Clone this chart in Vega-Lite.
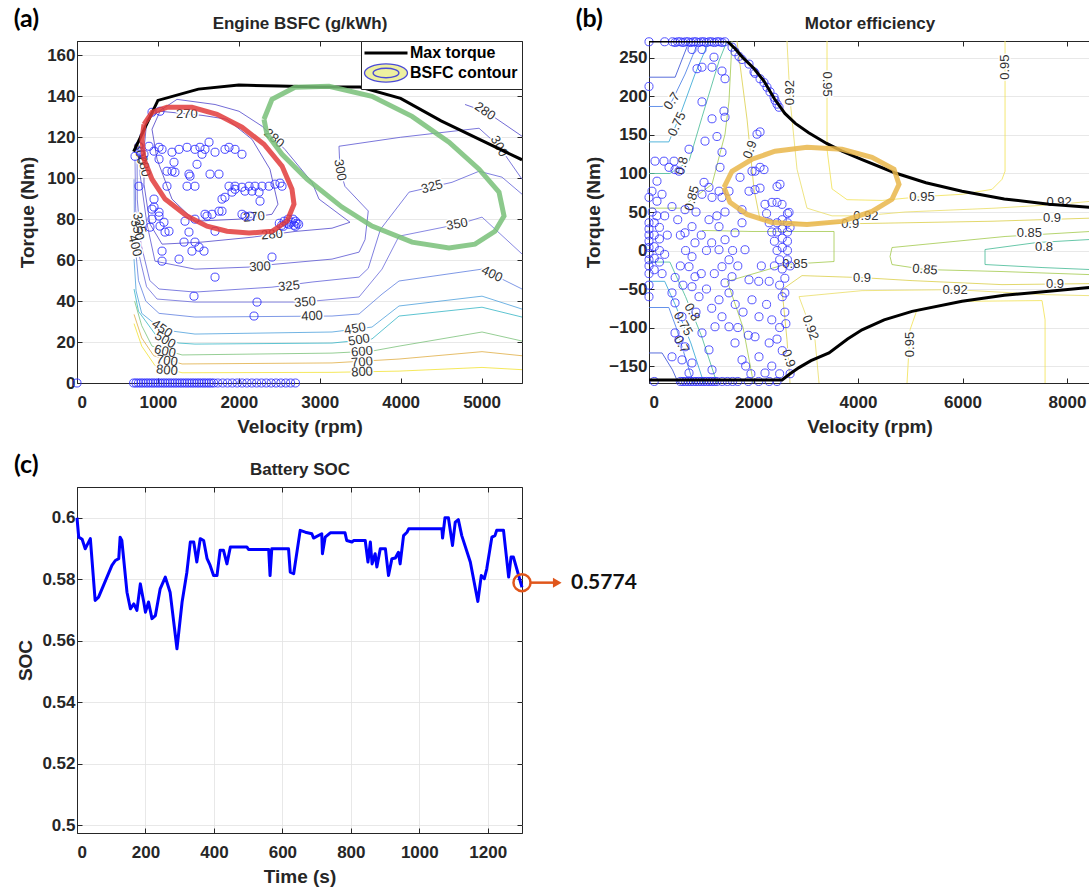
{
"$schema": "https://vega.github.io/schema/vega-lite/v6.json",
"padding": {"left": 13, "top": 6, "right": 0, "bottom": 0},
"background": "white",
"config": {
  "font": "Liberation Sans",
  "view": {"stroke": "#262626", "strokeWidth": 1},
  "axis": {"labelFont": "Liberation Sans", "labelFontSize": 17, "labelFontWeight": "bold", "labelColor": "#262626", "titleFont": "Liberation Sans", "titleFontSize": 19, "titleFontWeight": "bold", "titleColor": "#262626", "domainColor": "#262626", "tickColor": "#262626", "tickSize": -5, "labelPadding": 12, "gridColor": "#e2e2e2", "gridWidth": 0.8},
  "axisBottom": {"labelPadding": 16, "titlePadding": 7},
  "axisLeft": {"labelPadding": 7},
  "title": {"font": "Lato", "fontSize": 25, "fontWeight": "bold", "color": "#000000", "anchor": "start", "frame": "bounds", "offset": -17}
},
"resolve": {"scale": {"color": "independent", "stroke": "independent"}, "legend": {"color": "independent", "stroke": "independent"}},
"datasets": {
  "bsfc": [
    {"lv":270,"seg":"270","i":0,"v":1026,"T":132.7},{"lv":270,"seg":"270","i":1,"v":1545,"T":130.7},{"lv":270,"seg":"270","i":2,"v":1854,"T":128.8},{"lv":270,"seg":"270","i":3,"v":2163,"T":119},{"lv":270,"seg":"270","i":4,"v":2385,"T":104.4},{"lv":270,"seg":"270","i":5,"v":2484,"T":87.3},{"lv":270,"seg":"270","i":6,"v":2410,"T":82.4},{"lv":270,"seg":"270","i":7,"v":2002,"T":80},{"lv":270,"seg":"270","i":8,"v":1458,"T":79},{"lv":270,"seg":"270","i":9,"v":1174,"T":89.8},{"lv":270,"seg":"270","i":10,"v":989,"T":109.3},{"lv":270,"seg":"270","i":11,"v":927,"T":123.9},{"lv":270,"seg":"270","i":12,"v":1026,"T":132.7},
    {"lv":280,"seg":"280a","i":0,"v":828,"T":114},{"lv":280,"seg":"280a","i":1,"v":865,"T":128.8},{"lv":280,"seg":"280a","i":2,"v":1236,"T":138.5},{"lv":280,"seg":"280a","i":3,"v":1706,"T":136},{"lv":280,"seg":"280a","i":4,"v":2002,"T":132.7},{"lv":280,"seg":"280a","i":5,"v":2287,"T":125.4},{"lv":280,"seg":"280a","i":6,"v":2571,"T":114},{"lv":280,"seg":"280a","i":7,"v":2905,"T":98},{"lv":280,"seg":"280a","i":8,"v":2991,"T":89.8},{"lv":280,"seg":"280a","i":9,"v":3374,"T":78.5},{"lv":280,"seg":"280a","i":10,"v":3152,"T":75.6},{"lv":280,"seg":"280a","i":11,"v":2694,"T":74},{"lv":280,"seg":"280a","i":12,"v":2163,"T":71.2},{"lv":280,"seg":"280a","i":13,"v":1545,"T":68.8},{"lv":280,"seg":"280a","i":14,"v":1051,"T":67.8},{"lv":280,"seg":"280a","i":15,"v":902,"T":77.6},{"lv":280,"seg":"280a","i":16,"v":828,"T":97},{"lv":280,"seg":"280a","i":17,"v":828,"T":114},
    {"lv":280,"seg":"280b","i":0,"v":4796,"T":136},{"lv":280,"seg":"280b","i":1,"v":5068,"T":132.2},{"lv":280,"seg":"280b","i":2,"v":5500,"T":120.5},
    {"lv":300,"seg":"300","i":0,"v":779,"T":121.5},{"lv":300,"seg":"300","i":1,"v":779,"T":102},{"lv":300,"seg":"300","i":2,"v":865,"T":77.6},{"lv":300,"seg":"300","i":3,"v":964,"T":59.5},{"lv":300,"seg":"300","i":4,"v":1458,"T":55.6},{"lv":300,"seg":"300","i":5,"v":2126,"T":56.6},{"lv":300,"seg":"300","i":6,"v":2447,"T":58},{"lv":300,"seg":"300","i":7,"v":3152,"T":60.5},{"lv":300,"seg":"300","i":8,"v":3486,"T":63.9},{"lv":300,"seg":"300","i":9,"v":3560,"T":70},{"lv":300,"seg":"300","i":10,"v":3600,"T":84},{"lv":300,"seg":"300","i":11,"v":3312,"T":96},{"lv":300,"seg":"300","i":12,"v":3251,"T":104},{"lv":300,"seg":"300","i":13,"v":3238,"T":115.6},{"lv":300,"seg":"300","i":14,"v":4000,"T":120},{"lv":300,"seg":"300","i":15,"v":4969,"T":124.4},{"lv":300,"seg":"300","i":16,"v":5216,"T":115.6},{"lv":300,"seg":"300","i":17,"v":5500,"T":99.5},
    {"lv":325,"seg":"325","i":0,"v":742,"T":114},{"lv":325,"seg":"325","i":1,"v":745,"T":89.8},{"lv":325,"seg":"325","i":2,"v":790,"T":68},{"lv":325,"seg":"325","i":3,"v":900,"T":50},{"lv":325,"seg":"325","i":4,"v":1014,"T":45.9},{"lv":325,"seg":"325","i":5,"v":1458,"T":44.4},{"lv":325,"seg":"325","i":6,"v":2410,"T":46.8},{"lv":325,"seg":"325","i":7,"v":2905,"T":49.3},{"lv":325,"seg":"325","i":8,"v":3486,"T":51.7},{"lv":325,"seg":"325","i":9,"v":3600,"T":56},{"lv":325,"seg":"325","i":10,"v":3750,"T":75},{"lv":325,"seg":"325","i":11,"v":4104,"T":93.2},{"lv":325,"seg":"325","i":12,"v":4635,"T":98},{"lv":325,"seg":"325","i":13,"v":4969,"T":103.4},{"lv":325,"seg":"325","i":14,"v":5253,"T":100.5},{"lv":325,"seg":"325","i":15,"v":5500,"T":92.2},
    {"lv":350,"seg":"350","i":0,"v":717,"T":109},{"lv":350,"seg":"350","i":1,"v":725,"T":85},{"lv":350,"seg":"350","i":2,"v":770,"T":62},{"lv":350,"seg":"350","i":3,"v":860,"T":47},{"lv":350,"seg":"350","i":4,"v":989,"T":41},{"lv":350,"seg":"350","i":5,"v":1458,"T":39.5},{"lv":350,"seg":"350","i":6,"v":2781,"T":39.5},{"lv":350,"seg":"350","i":7,"v":3486,"T":42},{"lv":350,"seg":"350","i":8,"v":3770,"T":55.6},{"lv":350,"seg":"350","i":9,"v":3980,"T":71.7},{"lv":350,"seg":"350","i":10,"v":4722,"T":77.6},{"lv":350,"seg":"350","i":11,"v":5006,"T":81},{"lv":350,"seg":"350","i":12,"v":5500,"T":63},
    {"lv":400,"seg":"400","i":0,"v":705,"T":99.5},{"lv":400,"seg":"400","i":1,"v":712,"T":70.2},{"lv":400,"seg":"400","i":2,"v":760,"T":50},{"lv":400,"seg":"400","i":3,"v":850,"T":40},{"lv":400,"seg":"400","i":4,"v":1014,"T":34},{"lv":400,"seg":"400","i":5,"v":1458,"T":32.2},{"lv":400,"seg":"400","i":6,"v":3152,"T":32.7},{"lv":400,"seg":"400","i":7,"v":3486,"T":33.7},{"lv":400,"seg":"400","i":8,"v":3770,"T":43.4},{"lv":400,"seg":"400","i":9,"v":3980,"T":49.8},{"lv":400,"seg":"400","i":10,"v":5006,"T":55.6},{"lv":400,"seg":"400","i":11,"v":5500,"T":45.9},
    {"lv":450,"seg":"450","i":0,"v":705,"T":60.5},{"lv":450,"seg":"450","i":1,"v":730,"T":45},{"lv":450,"seg":"450","i":2,"v":800,"T":34},{"lv":450,"seg":"450","i":3,"v":1051,"T":26},{"lv":450,"seg":"450","i":4,"v":1458,"T":23.9},{"lv":450,"seg":"450","i":5,"v":3152,"T":24.9},{"lv":450,"seg":"450","i":6,"v":3646,"T":27.3},{"lv":450,"seg":"450","i":7,"v":3980,"T":37.6},{"lv":450,"seg":"450","i":8,"v":5006,"T":42.4},{"lv":450,"seg":"450","i":9,"v":5500,"T":36.1},
    {"lv":500,"seg":"500","i":0,"v":705,"T":45.9},{"lv":500,"seg":"500","i":1,"v":760,"T":35},{"lv":500,"seg":"500","i":2,"v":1000,"T":22},{"lv":500,"seg":"500","i":3,"v":1261,"T":19.5},{"lv":500,"seg":"500","i":4,"v":1458,"T":19},{"lv":500,"seg":"500","i":5,"v":3152,"T":19.5},{"lv":500,"seg":"500","i":6,"v":3646,"T":21.5},{"lv":500,"seg":"500","i":7,"v":3980,"T":32.7},{"lv":500,"seg":"500","i":8,"v":5006,"T":37},{"lv":500,"seg":"500","i":9,"v":5500,"T":32.2},
    {"lv":600,"seg":"600","i":0,"v":712,"T":40},{"lv":600,"seg":"600","i":1,"v":800,"T":28},{"lv":600,"seg":"600","i":2,"v":927,"T":18},{"lv":600,"seg":"600","i":3,"v":1298,"T":13.7},{"lv":600,"seg":"600","i":4,"v":3152,"T":14.6},{"lv":600,"seg":"600","i":5,"v":3646,"T":15.6},{"lv":600,"seg":"600","i":6,"v":3980,"T":18},{"lv":600,"seg":"600","i":7,"v":5006,"T":24.9},{"lv":600,"seg":"600","i":8,"v":5500,"T":20.5},
    {"lv":700,"seg":"700","i":0,"v":705,"T":33.5},{"lv":700,"seg":"700","i":1,"v":800,"T":22},{"lv":700,"seg":"700","i":2,"v":948,"T":13.3},{"lv":700,"seg":"700","i":3,"v":1298,"T":9.3},{"lv":700,"seg":"700","i":4,"v":3152,"T":9.8},{"lv":700,"seg":"700","i":5,"v":3980,"T":11.7},{"lv":700,"seg":"700","i":6,"v":5006,"T":15.3},{"lv":700,"seg":"700","i":7,"v":5500,"T":13.3},
    {"lv":800,"seg":"800","i":0,"v":705,"T":29},{"lv":800,"seg":"800","i":1,"v":800,"T":18},{"lv":800,"seg":"800","i":2,"v":964,"T":8.5},{"lv":800,"seg":"800","i":3,"v":1298,"T":5},{"lv":800,"seg":"800","i":4,"v":3152,"T":5.2},{"lv":800,"seg":"800","i":5,"v":3980,"T":5.8},{"lv":800,"seg":"800","i":6,"v":5006,"T":7.6},{"lv":800,"seg":"800","i":7,"v":5500,"T":6.5}
  ],
  "bsfcLab": [
    {"txt":"270","v":1359,"T":131.4,"rot":0},{"txt":"270","v":2188,"T":81.1,"rot":-5},{"txt":"280","v":2435,"T":119.5,"rot":40},{"txt":"280","v":2410,"T":72.5,"rot":-5},{"txt":"280","v":5043,"T":132.7,"rot":35},{"txt":"280","v":828,"T":106,"rot":78},
    {"txt":"300","v":779,"T":112,"rot":78},{"txt":"300","v":2262,"T":56.8,"rot":-3},{"txt":"300","v":3251,"T":104,"rot":80},{"txt":"300","v":5216,"T":115.6,"rot":60},
    {"txt":"325","v":770,"T":78,"rot":75},{"txt":"325","v":2620,"T":47.3,"rot":-5},{"txt":"325","v":4388,"T":95.8,"rot":-15},
    {"txt":"350","v":745,"T":74.8,"rot":75},{"txt":"350","v":2818,"T":39.5,"rot":-5},{"txt":"350","v":4697,"T":77.6,"rot":-10},
    {"txt":"400","v":716,"T":67,"rot":75},{"txt":"400","v":2905,"T":32.7,"rot":-3},{"txt":"400","v":5129,"T":53.2,"rot":25},
    {"txt":"450","v":1051,"T":26.5,"rot":35},{"txt":"450","v":3436,"T":26.5,"rot":-10},
    {"txt":"500","v":1088,"T":21,"rot":30},{"txt":"500","v":3486,"T":21,"rot":-10},
    {"txt":"600","v":1088,"T":15.5,"rot":12},{"txt":"600","v":3523,"T":15.3,"rot":-5},
    {"txt":"700","v":1112,"T":10.8,"rot":8},{"txt":"700","v":3523,"T":10.2,"rot":-5},
    {"txt":"800","v":1112,"T":6.2,"rot":5},{"txt":"800","v":3523,"T":5.4,"rot":-3}
  ],
  "engMax": [
    {"v":700,"T":113,"series":"Max torque"},{"v":1000,"T":138,"series":"Max torque"},{"v":1500,"T":143.5,"series":"Max torque"},{"v":2000,"T":145.5,"series":"Max torque"},{"v":2500,"T":145,"series":"Max torque"},{"v":3000,"T":144.5,"series":"Max torque"},{"v":3500,"T":144.5,"series":"Max torque"},{"v":4000,"T":139,"series":"Max torque"},{"v":4500,"T":128,"series":"Max torque"},{"v":5000,"T":118.5,"series":"Max torque"},{"v":5500,"T":109,"series":"Max torque"}
  ],
  "engOps": [
    {"v":927,"T":132.2},{"v":1026,"T":132.7},{"v":766,"T":115.6},{"v":779,"T":113.2},{"v":717,"T":110.7},{"v":828,"T":111.7},{"v":890,"T":115.6},{"v":1014,"T":115.1},{"v":952,"T":113.2},{"v":1051,"T":114.1},{"v":1014,"T":109.3},{"v":1174,"T":112.7},{"v":1261,"T":114.1},{"v":1360,"T":115.1},{"v":1458,"T":114.1},{"v":1520,"T":115.1},{"v":1582,"T":114.1},{"v":1632,"T":117.6},{"v":1545,"T":111.7},{"v":1706,"T":112.7},{"v":1829,"T":114.1},{"v":1879,"T":115.1},{"v":1953,"T":114.1},{"v":2039,"T":111.7},{"v":1199,"T":107.8},{"v":1174,"T":103.4},{"v":1112,"T":103.4},{"v":1211,"T":102.9},{"v":1384,"T":102},{"v":1397,"T":101},{"v":1360,"T":96.1},{"v":1458,"T":96.1},{"v":1483,"T":106.8},{"v":1644,"T":102},{"v":1755,"T":102},{"v":1112,"T":96.1},{"v":766,"T":96.1},{"v":1879,"T":96.1},{"v":1953,"T":96.1},{"v":2039,"T":95.6},{"v":2126,"T":96.1},{"v":2200,"T":96.1},{"v":2287,"T":96.1},{"v":2373,"T":96.1},{"v":2447,"T":97.1},{"v":2509,"T":97.6},{"v":2534,"T":96.1},{"v":2250,"T":93.2},{"v":2163,"T":93.7},{"v":2076,"T":93.7},{"v":1953,"T":94.6},{"v":1916,"T":93.2},{"v":1829,"T":90.7},{"v":1792,"T":89.8},{"v":952,"T":89.8},{"v":927,"T":84.9},{"v":1014,"T":83.4},{"v":1582,"T":82.4},{"v":1669,"T":82.4},{"v":1755,"T":83.9},{"v":2039,"T":82.4},{"v":2138,"T":81.5},{"v":952,"T":85.9},{"v":1014,"T":81.5},{"v":927,"T":80},{"v":1075,"T":78.5},{"v":1026,"T":76.6},{"v":1137,"T":74.1},{"v":1088,"T":73.7},{"v":902,"T":76.1},{"v":1335,"T":79},{"v":1458,"T":80},{"v":1607,"T":81.5},{"v":1792,"T":83.9},{"v":1706,"T":74.1},{"v":1384,"T":73.7},{"v":1323,"T":68.8},{"v":1458,"T":68.8},{"v":1421,"T":64.4},{"v":1508,"T":66.3},{"v":1570,"T":64.4},{"v":1051,"T":64.4},{"v":1051,"T":59.5},{"v":1261,"T":60.5},{"v":1706,"T":51.7},{"v":1446,"T":42.4},{"v":2225,"T":39.5},{"v":2188,"T":32.7},{"v":2410,"T":61.5},{"v":2076,"T":81.5},{"v":2262,"T":88.8},
    {"v":2500,"T":78},{"v":2530,"T":77},{"v":2560,"T":79},{"v":2590,"T":78},{"v":2620,"T":77.5},{"v":2650,"T":78.5},{"v":2680,"T":77},{"v":2700,"T":79},{"v":2720,"T":78},{"v":2740,"T":77.5},{"v":2610,"T":80},{"v":2670,"T":80},{"v":2550,"T":76.5},{"v":2700,"T":76.5},
    {"v":0,"T":0},{"v":700,"T":0},{"v":730,"T":0},{"v":760,"T":0},{"v":790,"T":0},{"v":820,"T":0},{"v":850,"T":0},{"v":880,"T":0},{"v":910,"T":0},{"v":940,"T":0},{"v":970,"T":0},{"v":1000,"T":0},{"v":1030,"T":0},{"v":1060,"T":0},{"v":1090,"T":0},{"v":1120,"T":0},{"v":1150,"T":0},{"v":1180,"T":0},{"v":1210,"T":0},{"v":1240,"T":0},{"v":1270,"T":0},{"v":1300,"T":0},{"v":1330,"T":0},{"v":1360,"T":0},{"v":1390,"T":0},{"v":1420,"T":0},{"v":1450,"T":0},{"v":1480,"T":0},{"v":1510,"T":0},{"v":1540,"T":0},{"v":1570,"T":0},{"v":1600,"T":0},{"v":1630,"T":0},{"v":1660,"T":0},{"v":1690,"T":0},{"v":1740,"T":0},{"v":1800,"T":0},{"v":1860,"T":0},{"v":1920,"T":0},{"v":1980,"T":0},{"v":2040,"T":0},{"v":2100,"T":0},{"v":2160,"T":0},{"v":2220,"T":0},{"v":2280,"T":0},{"v":2340,"T":0},{"v":2400,"T":0},{"v":2460,"T":0},{"v":2520,"T":0},{"v":2580,"T":0},{"v":2640,"T":0},{"v":2700,"T":0}
  ],
  "ellRed": [
    {"i":0,"v":828,"T":126.3},{"i":1,"v":927,"T":132.2},{"i":2,"v":1112,"T":134.6},{"i":3,"v":1421,"T":134.6},{"i":4,"v":1730,"T":131.2},{"i":5,"v":2039,"T":124.9},{"i":6,"v":2311,"T":116.6},{"i":7,"v":2534,"T":105.9},{"i":8,"v":2657,"T":94.6},{"i":9,"v":2682,"T":87.3},{"i":10,"v":2596,"T":79},{"i":11,"v":2410,"T":74.1},{"i":12,"v":2126,"T":73.2},{"i":13,"v":1854,"T":74.1},{"i":14,"v":1607,"T":76.6},{"i":15,"v":1360,"T":81.5},{"i":16,"v":1088,"T":89.8},{"i":17,"v":927,"T":99.5},{"i":18,"v":828,"T":109.3},{"i":19,"v":803,"T":119},{"i":20,"v":828,"T":126.3}
  ],
  "ellGreen": [
    {"i":0,"v":2311,"T":128.8},{"i":1,"v":2410,"T":138.5},{"i":2,"v":2694,"T":144.4},{"i":3,"v":3115,"T":144.9},{"i":4,"v":3646,"T":140},{"i":5,"v":4141,"T":130.2},{"i":6,"v":4598,"T":117.6},{"i":7,"v":4969,"T":104.4},{"i":8,"v":5216,"T":93.2},{"i":9,"v":5278,"T":81.5},{"i":10,"v":5166,"T":74.1},{"i":11,"v":4919,"T":67.8},{"i":12,"v":4598,"T":65.9},{"i":13,"v":4141,"T":68.8},{"i":14,"v":3646,"T":76.6},{"i":15,"v":3275,"T":85.9},{"i":16,"v":2843,"T":99.5},{"i":17,"v":2534,"T":111.7},{"i":18,"v":2348,"T":121.5},{"i":19,"v":2311,"T":128.8}
  ],
  "eff": [
    {"lv":"0.65","seg":"65u","i":0,"v":0,"T":225},{"lv":"0.65","seg":"65u","i":1,"v":500,"T":225},{"lv":"0.65","seg":"65u","i":2,"v":730,"T":265},{"lv":"0.65","seg":"65u","i":3,"v":770,"T":272},
    {"lv":"0.65","seg":"65l","i":0,"v":0,"T":-133},{"lv":"0.65","seg":"65l","i":1,"v":250,"T":-133},{"lv":"0.65","seg":"65l","i":2,"v":450,"T":-155},{"lv":"0.65","seg":"65l","i":3,"v":560,"T":-172},
    {"lv":"0.7","seg":"70u","i":0,"v":0,"T":187},{"lv":"0.7","seg":"70u","i":1,"v":250,"T":187},{"lv":"0.7","seg":"70u","i":2,"v":440,"T":194},{"lv":"0.7","seg":"70u","i":3,"v":690,"T":229},{"lv":"0.7","seg":"70u","i":4,"v":950,"T":272},
    {"lv":"0.7","seg":"70l","i":0,"v":0,"T":-74},{"lv":"0.7","seg":"70l","i":1,"v":380,"T":-74},{"lv":"0.7","seg":"70l","i":2,"v":520,"T":-100},{"lv":"0.7","seg":"70l","i":3,"v":700,"T":-140},{"lv":"0.7","seg":"70l","i":4,"v":850,"T":-172},
    {"lv":"0.75","seg":"75u","i":0,"v":0,"T":141},{"lv":"0.75","seg":"75u","i":1,"v":380,"T":141},{"lv":"0.75","seg":"75u","i":2,"v":580,"T":173},{"lv":"0.75","seg":"75u","i":3,"v":880,"T":229},{"lv":"0.75","seg":"75u","i":4,"v":1150,"T":272},
    {"lv":"0.75","seg":"75l","i":0,"v":0,"T":-40},{"lv":"0.75","seg":"75l","i":1,"v":300,"T":-40},{"lv":"0.75","seg":"75l","i":2,"v":500,"T":-70},{"lv":"0.75","seg":"75l","i":3,"v":800,"T":-120},{"lv":"0.75","seg":"75l","i":4,"v":1050,"T":-172},
    {"lv":"0.8","seg":"80u","i":0,"v":0,"T":100},{"lv":"0.8","seg":"80u","i":1,"v":400,"T":100},{"lv":"0.8","seg":"80u","i":2,"v":766,"T":116},{"lv":"0.8","seg":"80u","i":3,"v":1014,"T":173},{"lv":"0.8","seg":"80u","i":4,"v":1340,"T":246},{"lv":"0.8","seg":"80u","i":5,"v":1493,"T":272},
    {"lv":"0.8","seg":"80l","i":0,"v":0,"T":-15},{"lv":"0.8","seg":"80l","i":1,"v":400,"T":-15},{"lv":"0.8","seg":"80l","i":2,"v":700,"T":-60},{"lv":"0.8","seg":"80l","i":3,"v":1000,"T":-110},{"lv":"0.8","seg":"80l","i":4,"v":1300,"T":-172},
    {"lv":"0.85","seg":"85u","i":0,"v":0,"T":55},{"lv":"0.85","seg":"85u","i":1,"v":600,"T":55},{"lv":"0.85","seg":"85u","i":2,"v":1206,"T":86},{"lv":"0.85","seg":"85u","i":3,"v":1455,"T":151},{"lv":"0.85","seg":"85u","i":4,"v":1531,"T":194},{"lv":"0.85","seg":"85u","i":5,"v":1589,"T":272},
    {"lv":"0.85","seg":"85m","i":0,"v":1014,"T":26},{"lv":"0.85","seg":"85m","i":1,"v":1971,"T":24.7},{"lv":"0.85","seg":"85m","i":2,"v":3541,"T":24.7},{"lv":"0.85","seg":"85m","i":3,"v":3541,"T":-14.3},{"lv":"0.85","seg":"85m","i":4,"v":2603,"T":-18.2},{"lv":"0.85","seg":"85m","i":5,"v":1500,"T":-40},{"lv":"0.85","seg":"85m","i":6,"v":1800,"T":-100},{"lv":"0.85","seg":"85m","i":7,"v":2000,"T":-172},
    {"lv":"0.9","seg":"90u","i":0,"v":1684,"T":272},{"lv":"0.9","seg":"90u","i":1,"v":1876,"T":170.6},{"lv":"0.9","seg":"90u","i":2,"v":2010,"T":79.4},{"lv":"0.9","seg":"90u","i":3,"v":2125,"T":40},{"lv":"0.9","seg":"90u","i":4,"v":2928,"T":36},{"lv":"0.9","seg":"90u","i":5,"v":4077,"T":35},{"lv":"0.9","seg":"90u","i":6,"v":6565,"T":38},{"lv":"0.9","seg":"90u","i":7,"v":8440,"T":42},
    {"lv":"0.9","seg":"90l","i":0,"v":8440,"T":-43},{"lv":"0.9","seg":"90l","i":1,"v":6756,"T":-44.3},{"lv":"0.9","seg":"90l","i":2,"v":5034,"T":-39.1},{"lv":"0.9","seg":"90l","i":3,"v":4077,"T":-35.2},{"lv":"0.9","seg":"90l","i":4,"v":2928,"T":-32.6},{"lv":"0.9","seg":"90l","i":5,"v":2546,"T":-50.8},{"lv":"0.9","seg":"90l","i":6,"v":2641,"T":-115.9},{"lv":"0.9","seg":"90l","i":7,"v":2699,"T":-172},
    {"lv":"0.92","seg":"92u","i":0,"v":2641,"T":272},{"lv":"0.92","seg":"92u","i":1,"v":2699,"T":196.6},{"lv":"0.92","seg":"92u","i":2,"v":2833,"T":105.5},{"lv":"0.92","seg":"92u","i":3,"v":3024,"T":55},{"lv":"0.92","seg":"92u","i":4,"v":3503,"T":45},{"lv":"0.92","seg":"92u","i":5,"v":4077,"T":45},{"lv":"0.92","seg":"92u","i":6,"v":4900,"T":50},{"lv":"0.92","seg":"92u","i":7,"v":6622,"T":55},{"lv":"0.92","seg":"92u","i":8,"v":7847,"T":60},{"lv":"0.92","seg":"92u","i":9,"v":8440,"T":63.8},
    {"lv":"0.92","seg":"92l","i":0,"v":8440,"T":-58.6},{"lv":"0.92","seg":"92l","i":1,"v":7580,"T":-57.3},{"lv":"0.92","seg":"92l","i":2,"v":5857,"T":-50.8},{"lv":"0.92","seg":"92l","i":3,"v":4077,"T":-52.1},{"lv":"0.92","seg":"92l","i":4,"v":2871,"T":-59.9},{"lv":"0.92","seg":"92l","i":5,"v":3177,"T":-115.9},{"lv":"0.92","seg":"92l","i":6,"v":3254,"T":-172},
    {"lv":"0.95","seg":"95u","i":0,"v":3407,"T":272},{"lv":"0.95","seg":"95u","i":1,"v":3407,"T":131.5},{"lv":"0.95","seg":"95u","i":2,"v":3503,"T":80},{"lv":"0.95","seg":"95u","i":3,"v":3790,"T":66},{"lv":"0.95","seg":"95u","i":4,"v":4460,"T":65},{"lv":"0.95","seg":"95u","i":5,"v":5225,"T":70},{"lv":"0.95","seg":"95u","i":6,"v":5991,"T":73},{"lv":"0.95","seg":"95u","i":7,"v":6565,"T":79.4},{"lv":"0.95","seg":"95u","i":8,"v":6756,"T":92.4},{"lv":"0.95","seg":"95u","i":9,"v":6814,"T":102.9},{"lv":"0.95","seg":"95u","i":10,"v":6814,"T":272},
    {"lv":"0.95","seg":"95l","i":0,"v":4938,"T":-172},{"lv":"0.95","seg":"95l","i":1,"v":4996,"T":-102.9},{"lv":"0.95","seg":"95l","i":2,"v":5130,"T":-76.8},{"lv":"0.95","seg":"95l","i":3,"v":5991,"T":-66},{"lv":"0.95","seg":"95l","i":4,"v":7522,"T":-65},{"lv":"0.95","seg":"95l","i":5,"v":7580,"T":-89.8},{"lv":"0.95","seg":"95l","i":6,"v":7580,"T":-172},
    {"lv":"0.85","seg":"85r","i":0,"v":8440,"T":24.7},{"lv":"0.85","seg":"85r","i":1,"v":6814,"T":18.2},{"lv":"0.85","seg":"85r","i":2,"v":4651,"T":3.9},{"lv":"0.85","seg":"85r","i":3,"v":4613,"T":-7.8},{"lv":"0.85","seg":"85r","i":4,"v":4651,"T":-18.2},{"lv":"0.85","seg":"85r","i":5,"v":5283,"T":-24.7},{"lv":"0.85","seg":"85r","i":6,"v":6756,"T":-27.3},{"lv":"0.85","seg":"85r","i":7,"v":8440,"T":-31.3},
    {"lv":"0.8","seg":"80r","i":0,"v":8440,"T":14.3},{"lv":"0.8","seg":"80r","i":1,"v":7426,"T":10.4},{"lv":"0.8","seg":"80r","i":2,"v":6431,"T":1.3},{"lv":"0.8","seg":"80r","i":3,"v":6431,"T":-18.2},{"lv":"0.8","seg":"80r","i":4,"v":7522,"T":-22.1},{"lv":"0.8","seg":"80r","i":5,"v":8440,"T":-24.7}
  ],
  "effLab": [
    {"txt":"0.7","v":440,"T":194,"rot":-55},{"txt":"0.75","v":536,"T":164,"rot":-65},{"txt":"0.8","v":632,"T":110,"rot":-75},{"txt":"0.85","v":823,"T":68,"rot":-75},{"txt":"0.9","v":1933,"T":131,"rot":-70},
    {"txt":"0.92","v":2699,"T":205,"rot":-90},{"txt":"0.95","v":3407,"T":216,"rot":90},{"txt":"0.95","v":6814,"T":238,"rot":-90},{"txt":"0.95","v":5225,"T":70,"rot":0},
    {"txt":"0.92","v":7850,"T":63,"rot":0},{"txt":"0.9","v":7713,"T":42,"rot":0},{"txt":"0.85","v":7280,"T":23,"rot":0},{"txt":"0.8","v":7560,"T":5,"rot":0},
    {"txt":"0.85","v":5283,"T":-24.7,"rot":5},{"txt":"0.92","v":5857,"T":-50.8,"rot":0},{"txt":"0.9","v":7771,"T":-43.5,"rot":0},{"txt":"0.95","v":4996,"T":-122,"rot":-90},
    {"txt":"0.9","v":4077,"T":-35.2,"rot":0},{"txt":"0.92","v":4150,"T":45,"rot":0},{"txt":"0.9","v":3850,"T":35,"rot":0},{"txt":"0.85","v":2794,"T":-17.4,"rot":0},
    {"txt":"0.92","v":3090,"T":-100,"rot":70},{"txt":"0.9","v":2670,"T":-140,"rot":70},
    {"txt":"0.8","v":823,"T":-80,"rot":60},{"txt":"0.75","v":650,"T":-95,"rot":60},{"txt":"0.7","v":620,"T":-122,"rot":60}
  ],
  "motMax": [
    {"curve":"top","v":0,"T":272},{"curve":"top","v":1493,"T":272},{"curve":"top","v":1650,"T":262},{"curve":"top","v":1800,"T":250},{"curve":"top","v":2000,"T":237},{"curve":"top","v":2200,"T":220},{"curve":"top","v":2400,"T":197},{"curve":"top","v":2600,"T":178},{"curve":"top","v":2800,"T":165},{"curve":"top","v":3056,"T":153},{"curve":"top","v":3400,"T":139},{"curve":"top","v":3694,"T":129},{"curve":"top","v":4077,"T":118},{"curve":"top","v":4700,"T":101},{"curve":"top","v":5300,"T":88},{"curve":"top","v":5991,"T":77},{"curve":"top","v":6800,"T":67},{"curve":"top","v":7656,"T":60},{"curve":"top","v":8440,"T":56},
    {"curve":"bot","v":0,"T":-168},{"curve":"bot","v":2546,"T":-168},{"curve":"bot","v":2700,"T":-160},{"curve":"bot","v":2871,"T":-152},{"curve":"bot","v":3100,"T":-143},{"curve":"bot","v":3445,"T":-133},{"curve":"bot","v":3800,"T":-115},{"curve":"bot","v":4077,"T":-103},{"curve":"bot","v":4500,"T":-90},{"curve":"bot","v":5034,"T":-79},{"curve":"bot","v":5991,"T":-66},{"curve":"bot","v":6800,"T":-58},{"curve":"bot","v":7656,"T":-53},{"curve":"bot","v":8440,"T":-48}
  ],
  "ellOrange": [
    {"i":0,"v":1436,"T":82},{"i":1,"v":1589,"T":102.9},{"i":2,"v":1971,"T":118.5},{"i":3,"v":2412,"T":128.9},{"i":4,"v":3024,"T":134.1},{"i":5,"v":3694,"T":131.5},{"i":6,"v":4268,"T":121.1},{"i":7,"v":4689,"T":105.5},{"i":8,"v":4785,"T":85.9},{"i":9,"v":4651,"T":66.4},{"i":10,"v":4268,"T":50.8},{"i":11,"v":3694,"T":37.8},{"i":12,"v":3024,"T":33.9},{"i":13,"v":2354,"T":36.5},{"i":14,"v":1876,"T":46.9},{"i":15,"v":1550,"T":62.5},{"i":16,"v":1436,"T":82}
  ],
  "motOps": [
    {"v":0,"T":271},{"v":300,"T":271},{"v":450,"T":271},{"v":500,"T":270},{"v":550,"T":271},{"v":600,"T":271},{"v":650,"T":270},{"v":700,"T":271},{"v":750,"T":271},{"v":800,"T":270},{"v":850,"T":271},{"v":900,"T":271},{"v":950,"T":270},{"v":1000,"T":271},{"v":1050,"T":271},{"v":1100,"T":270},{"v":1150,"T":271},{"v":1200,"T":271},{"v":1250,"T":270},{"v":1300,"T":271},{"v":1350,"T":271},{"v":1400,"T":270},{"v":1450,"T":271},
    {"v":0,"T":213},{"v":823,"T":261},{"v":1014,"T":261},{"v":1589,"T":264},{"v":1646,"T":258},{"v":1722,"T":252},{"v":1780,"T":248},{"v":1914,"T":242},{"v":2010,"T":232},{"v":2029,"T":230},{"v":2125,"T":223},{"v":2201,"T":218},{"v":2258,"T":212},{"v":2316,"T":206},{"v":2393,"T":199},{"v":2412,"T":195},{"v":2450,"T":190},{"v":2488,"T":186},
    {"v":1244,"T":251},{"v":1014,"T":238},{"v":1206,"T":238},{"v":1397,"T":233},{"v":1455,"T":223},{"v":919,"T":236},{"v":1014,"T":193},{"v":1435,"T":181},{"v":1455,"T":173},{"v":1206,"T":171},{"v":2067,"T":151},{"v":2125,"T":154},{"v":1301,"T":148},{"v":1072,"T":142},{"v":766,"T":131.5},{"v":1397,"T":127.6},{"v":1359,"T":108},{"v":1742,"T":95},{"v":1971,"T":103},{"v":2029,"T":103},{"v":2125,"T":108},{"v":2201,"T":105},{"v":1914,"T":77},{"v":2029,"T":79},{"v":2125,"T":81},{"v":2450,"T":83},{"v":2507,"T":86},{"v":2354,"T":62.5},{"v":2450,"T":62.5},{"v":2546,"T":59.9},{"v":2220,"T":60},{"v":2680,"T":49.5},
    {"v":115,"T":116},{"v":287,"T":116},{"v":479,"T":116},{"v":383,"T":108},{"v":498,"T":105},{"v":574,"T":103},{"v":153,"T":90},{"v":57,"T":77},{"v":249,"T":73},{"v":153,"T":64},{"v":0,"T":69},{"v":1053,"T":88.5},{"v":1148,"T":82},{"v":1014,"T":73},{"v":1206,"T":69},{"v":1340,"T":77},{"v":1397,"T":69},{"v":1531,"T":77},
    {"v":440,"T":57},{"v":689,"T":53},{"v":823,"T":31},{"v":689,"T":23},{"v":880,"T":10},{"v":823,"T":-8},{"v":766,"T":-21},{"v":880,"T":-34},{"v":823,"T":-47},{"v":957,"T":-60},{"v":440,"T":-55},{"v":498,"T":-68},{"v":632,"T":-86},{"v":498,"T":-107},{"v":574,"T":-116},{"v":689,"T":-125},{"v":440,"T":-138},{"v":632,"T":-142},{"v":823,"T":-146},{"v":766,"T":-159},{"v":1206,"T":-155},{"v":1148,"T":-129},{"v":1014,"T":-107},{"v":1263,"T":-99},{"v":1397,"T":-86},{"v":1340,"T":-64},{"v":1531,"T":-55},{"v":1455,"T":-42},{"v":1589,"T":-34},{"v":1397,"T":-21},{"v":1531,"T":-12},{"v":1340,"T":1},{"v":1455,"T":14},{"v":1646,"T":23},{"v":1340,"T":31},{"v":1148,"T":40},{"v":1455,"T":50},{"v":1780,"T":53},{"v":1780,"T":36},{"v":1837,"T":1},{"v":1914,"T":-38},{"v":1971,"T":-64},{"v":2105,"T":-86},{"v":2029,"T":-112},{"v":2105,"T":-138},{"v":2220,"T":-159},{"v":1780,"T":-142},{"v":1646,"T":-120},{"v":1531,"T":-99},
    {"v":0,"T":36},{"v":0,"T":28},{"v":0,"T":20},{"v":0,"T":12},{"v":0,"T":4},{"v":0,"T":-4},{"v":0,"T":-12},{"v":0,"T":-20},{"v":0,"T":-30},{"v":0,"T":-45},{"v":0,"T":-60},{"v":100,"T":36},{"v":100,"T":20},{"v":100,"T":5},{"v":100,"T":-10},{"v":100,"T":-25},{"v":200,"T":30},{"v":200,"T":15},{"v":200,"T":0},{"v":200,"T":-15},{"v":250,"T":-30},{"v":300,"T":45},{"v":350,"T":20},{"v":300,"T":-5},{"v":60,"T":50},{"v":150,"T":45},
    {"v":550,"T":40},{"v":600,"T":20},{"v":700,"T":0},{"v":600,"T":-20},{"v":500,"T":-35},{"v":650,"T":-45},{"v":900,"T":50},{"v":1000,"T":20},{"v":1100,"T":0},{"v":1000,"T":-30},{"v":1100,"T":-50},{"v":900,"T":-80},{"v":1200,"T":-75},{"v":1250,"T":-30},{"v":1200,"T":10},{"v":1300,"T":45},{"v":1600,"T":0},{"v":1700,"T":-20},{"v":1650,"T":-70},{"v":1800,"T":-80},{"v":1900,"T":-110},{"v":1700,"T":-100},{"v":1850,"T":-150},{"v":1950,"T":-160},{"v":2100,"T":-40},{"v":2250,"T":-70},{"v":2350,"T":-90},{"v":2300,"T":-120},{"v":2150,"T":-20},{"v":2300,"T":-40},
    {"v":2250,"T":48},{"v":2300,"T":36},{"v":2350,"T":24},{"v":2400,"T":12},{"v":2450,"T":0},{"v":2500,"T":-12},{"v":2550,"T":-24},{"v":2600,"T":-36},{"v":2650,"T":48},{"v":2650,"T":36},{"v":2650,"T":24},{"v":2650,"T":12},{"v":2650,"T":0},{"v":2650,"T":-12},{"v":2550,"T":40},{"v":2550,"T":28},{"v":2550,"T":16},{"v":2550,"T":4},{"v":2450,"T":36},{"v":2450,"T":24},{"v":2400,"T":-20},{"v":2500,"T":-45},{"v":2600,"T":-55},{"v":2550,"T":-60},{"v":2600,"T":-80},{"v":2620,"T":-95},{"v":2500,"T":-100},{"v":2450,"T":-115},{"v":2550,"T":-130},{"v":2350,"T":-150},{"v":2500,"T":-160},{"v":2700,"T":-160},{"v":2700,"T":-20},{"v":2700,"T":30},
    {"v":100,"T":-170},{"v":600,"T":-170},{"v":650,"T":-170},{"v":700,"T":-170},{"v":750,"T":-170},{"v":800,"T":-170},{"v":850,"T":-170},{"v":900,"T":-170},{"v":950,"T":-170},{"v":1000,"T":-170},{"v":1050,"T":-170},{"v":1100,"T":-170},{"v":1150,"T":-170},{"v":1200,"T":-170},{"v":1250,"T":-170},{"v":1300,"T":-170},{"v":1400,"T":-170},{"v":1500,"T":-170},{"v":1600,"T":-170},{"v":1700,"T":-170},{"v":1900,"T":-170},{"v":2100,"T":-170},{"v":2300,"T":-170},{"v":2450,"T":-170}
  ],
  "soc": [
    {"t":0,"soc":0.6},{"t":5,"soc":0.5937},{"t":15,"soc":0.593},{"t":24,"soc":0.5899},{"t":29,"soc":0.591},{"t":39,"soc":0.5932},{"t":53,"soc":0.5731},{"t":63,"soc":0.5742},{"t":102,"soc":0.5845},{"t":112,"soc":0.5861},{"t":122,"soc":0.5867},{"t":126,"soc":0.5937},{"t":131,"soc":0.5926},{"t":146,"soc":0.5758},{"t":156,"soc":0.5704},{"t":166,"soc":0.572},{"t":175,"soc":0.5699},{"t":185,"soc":0.5785},{"t":195,"soc":0.5726},{"t":200,"soc":0.5693},{"t":209,"soc":0.5726},{"t":219,"soc":0.5672},{"t":229,"soc":0.5682},{"t":243,"soc":0.5769},{"t":258,"soc":0.5807},{"t":272,"soc":0.5758},{"t":292,"soc":0.5574},{"t":307,"soc":0.5726},{"t":321,"soc":0.5823},{"t":331,"soc":0.5921},{"t":341,"soc":0.5921},{"t":350,"soc":0.5856},{"t":360,"soc":0.5932},{"t":370,"soc":0.5926},{"t":380,"soc":0.5867},{"t":389,"soc":0.5845},{"t":399,"soc":0.5812},{"t":409,"soc":0.5812},{"t":418,"soc":0.5894},{"t":428,"soc":0.5894},{"t":438,"soc":0.585},{"t":448,"soc":0.5905},{"t":496,"soc":0.5905},{"t":501,"soc":0.5897},{"t":560,"soc":0.5897},{"t":564,"soc":0.5812},{"t":569,"soc":0.5899},{"t":618,"soc":0.5899},{"t":623,"soc":0.5823},{"t":633,"soc":0.5818},{"t":652,"soc":0.5959},{"t":667,"soc":0.5953},{"t":686,"soc":0.5948},{"t":691,"soc":0.5934},{"t":715,"soc":0.5948},{"t":717,"soc":0.5883},{"t":725,"soc":0.5937},{"t":740,"soc":0.5951},{"t":783,"soc":0.5951},{"t":788,"soc":0.5926},{"t":803,"soc":0.5921},{"t":808,"soc":0.5926},{"t":842,"soc":0.5926},{"t":850,"soc":0.5856},{"t":857,"soc":0.5921},{"t":862,"soc":0.585},{"t":871,"soc":0.5883},{"t":876,"soc":0.584},{"t":886,"soc":0.5899},{"t":901,"soc":0.5899},{"t":910,"soc":0.5812},{"t":920,"soc":0.5867},{"t":930,"soc":0.5869},{"t":939,"soc":0.5888},{"t":944,"soc":0.585},{"t":954,"soc":0.5942},{"t":964,"soc":0.5953},{"t":969,"soc":0.5964},{"t":1066,"soc":0.5964},{"t":1068,"soc":0.5934},{"t":1075,"soc":0.6},{"t":1085,"soc":0.6},{"t":1097,"soc":0.591},{"t":1105,"soc":0.5986},{"t":1114,"soc":0.5994},{"t":1124,"soc":0.5942},{"t":1149,"soc":0.5856},{"t":1171,"soc":0.5728},{"t":1181,"soc":0.5812},{"t":1190,"soc":0.5802},{"t":1197,"soc":0.5834},{"t":1212,"soc":0.5937},{"t":1221,"soc":0.5942},{"t":1226,"soc":0.5959},{"t":1246,"soc":0.5959},{"t":1261,"soc":0.5807},{"t":1268,"soc":0.5872},{"t":1275,"soc":0.5872},{"t":1300,"soc":0.5774}
  ],
  "socEnd": [{"t":1300,"soc":0.5774,"label":"0.5774"}]
},
"concat": [
  {
    "title": {"text": "(a)", "dx": -5},
    "width": 445, "height": 342,
    "resolve": {"axis": {"x": "independent", "y": "independent"}},
    "layer": [
      {"data": {"name": "bsfc"}, "mark": {"type": "line", "strokeWidth": 1, "opacity": 0.8, "clip": true},
       "encoding": {
         "x": {"field": "v", "type": "quantitative", "scale": {"domain": [0, 5500], "nice": false, "zero": false},
               "axis": {"orient": "top", "title": "Engine BSFC (g/kWh)", "titleFontSize": 17, "titlePadding": 8, "labels": false, "grid": false, "values": [0,1000,2000,3000,4000,5000]}},
         "y": {"field": "T", "type": "quantitative", "scale": {"domain": [0, 167], "nice": false, "zero": false},
               "axis": {"orient": "left", "title": "Torque (Nm)", "values": [0,20,40,60,80,100,120,140,160], "titlePadding": 9}},
         "color": {"field": "lv", "type": "ordinal", "scale": {"domain": [270,280,300,325,350,400,450,500,600,700,800], "range": ["#4b3fc7","#5047cc","#5a55d2","#6060d8","#6a6adb","#5f7fe0","#4ea0dc","#36b5c5","#7cc27a","#e0ae45","#f2e233"]}, "legend": null},
         "detail": {"field": "seg"},
         "order": {"field": "i", "type": "quantitative"}
       }},
      {"data": {"name": "bsfcLab"}, "mark": {"type": "text", "fontSize": 13, "font": "Liberation Sans", "fill": "white", "stroke": "white", "strokeWidth": 3, "strokeJoin": "round"},
       "encoding": {"x": {"field": "v", "type": "quantitative", "axis": null}, "y": {"field": "T", "type": "quantitative", "axis": null}, "text": {"field": "txt"}, "angle": {"field": "rot", "type": "quantitative", "scale": null}}},
      {"data": {"name": "bsfcLab"}, "mark": {"type": "text", "fontSize": 13, "font": "Liberation Sans", "fill": "#333333"},
       "encoding": {"x": {"field": "v", "type": "quantitative", "axis": null}, "y": {"field": "T", "type": "quantitative", "axis": null}, "text": {"field": "txt"}, "angle": {"field": "rot", "type": "quantitative", "scale": null}}},
      {"data": {"name": "engOps"}, "mark": {"type": "point", "shape": "circle", "filled": false, "size": 65, "strokeWidth": 1, "color": "#2b2bff", "opacity": 0.85},
       "encoding": {"x": {"field": "v", "type": "quantitative", "axis": null},
                    "y": {"field": "T", "type": "quantitative", "axis": {"orient": "right", "title": null, "labels": false, "grid": false, "domain": false, "values": [0,20,40,60,80,100,120,140,160]}}}},
      {"data": {"name": "engMax"}, "mark": {"type": "line", "strokeWidth": 3, "clip": true},
       "encoding": {
         "x": {"field": "v", "type": "quantitative", "axis": {"title": "Velocity (rpm)", "values": [0,1000,2000,3000,4000,5000], "format": "d"}},
         "y": {"field": "T", "type": "quantitative", "axis": null},
         "stroke": {"field": "series", "type": "nominal", "scale": {"domain": ["Max torque", "BSFC contour"], "range": ["#000000", "#4b4bd6"]},
           "legend": {"title": null, "orient": "top-right", "offset": 0, "padding": 4, "rowPadding": 0, "strokeColor": "#262626", "fillColor": "white", "labelFont": "Liberation Sans", "labelFontSize": 16, "labelFontWeight": "bold", "labelColor": "#000000", "symbolType": "stroke", "symbolSize": 1850, "symbolStrokeWidth": 3, "symbolOffset": 13, "labelOffset": 16,
             "encode": {"symbols": {"update": {
               "shape": {"signal": "datum.value === 'BSFC contour' ? 'M-1,0A1,0.42 0 1,1 1,0A1,0.42 0 1,1 -1,0Z M-0.6,0A0.6,0.22 0 1,1 0.6,0A0.6,0.22 0 1,1 -0.6,0Z' : 'stroke'"},
               "fill": {"signal": "datum.value === 'BSFC contour' ? '#eef0a0' : 'transparent'"},
               "strokeWidth": {"signal": "datum.value === 'BSFC contour' ? 1.3 : 3"}}}}}}
       }},
      {"data": {"name": "ellRed"}, "mark": {"type": "line", "stroke": "#e23b3b", "strokeWidth": 5, "opacity": 0.85},
       "encoding": {"x": {"field": "v", "type": "quantitative", "axis": null}, "y": {"field": "T", "type": "quantitative", "axis": null}, "order": {"field": "i", "type": "quantitative"}}},
      {"data": {"name": "ellGreen"}, "mark": {"type": "line", "stroke": "#78c078", "strokeWidth": 5, "opacity": 0.85},
       "encoding": {"x": {"field": "v", "type": "quantitative", "axis": null}, "y": {"field": "T", "type": "quantitative", "axis": null}, "order": {"field": "i", "type": "quantitative"}}}
    ]
  },
  {
    "title": {"text": "(b)", "dx": -9},
    "width": 441, "height": 342,
    "view": {"stroke": null},
    "resolve": {"axis": {"x": "independent"}},
    "layer": [
      {"data": {"name": "eff"}, "mark": {"type": "line", "strokeWidth": 1, "opacity": 0.85, "clip": true},
       "encoding": {
         "x": {"field": "v", "type": "quantitative", "scale": {"domain": [0, 8440], "nice": false, "zero": false},
               "axis": {"orient": "top", "title": "Motor efficiency", "titleFontSize": 17, "titlePadding": 8, "labels": false, "grid": false, "values": [0,2000,4000,6000,8000]}},
         "y": {"field": "T", "type": "quantitative", "scale": {"domain": [-172, 272], "nice": false, "zero": false},
               "axis": {"title": "Torque (Nm)", "values": [-150,-100,-50,0,50,100,150,200,250], "titlePadding": 5}},
         "color": {"field": "lv", "type": "ordinal", "scale": {"domain": ["0.65","0.7","0.75","0.8","0.85","0.9","0.92","0.95"], "range": ["#3c55d6","#4a7fe6","#37a8d6","#4dbd9a","#a8cc57","#ddd154","#ebdf6e","#f2e35a"]}, "legend": null},
         "detail": {"field": "seg"},
         "order": {"field": "i", "type": "quantitative"}
       }},
      {"data": {"name": "effLab"}, "mark": {"type": "text", "fontSize": 13, "font": "Liberation Sans", "fill": "white", "stroke": "white", "strokeWidth": 3, "strokeJoin": "round"},
       "encoding": {"x": {"field": "v", "type": "quantitative", "axis": null}, "y": {"field": "T", "type": "quantitative"}, "text": {"field": "txt"}, "angle": {"field": "rot", "type": "quantitative", "scale": null}}},
      {"data": {"name": "effLab"}, "mark": {"type": "text", "fontSize": 13, "font": "Liberation Sans", "fill": "#333333"},
       "encoding": {"x": {"field": "v", "type": "quantitative", "axis": null}, "y": {"field": "T", "type": "quantitative"}, "text": {"field": "txt"}, "angle": {"field": "rot", "type": "quantitative", "scale": null}}},
      {"data": {"name": "motOps"}, "mark": {"type": "point", "shape": "circle", "filled": false, "size": 65, "strokeWidth": 1, "color": "#2b2bff", "opacity": 0.8},
       "encoding": {"x": {"field": "v", "type": "quantitative", "axis": null}, "y": {"field": "T", "type": "quantitative"}}},
      {"data": {"name": "motMax"}, "mark": {"type": "line", "strokeWidth": 3, "color": "#000000", "clip": true},
       "encoding": {
         "x": {"field": "v", "type": "quantitative", "axis": {"title": "Velocity (rpm)", "values": [0,2000,4000,6000,8000], "format": "d"}},
         "y": {"field": "T", "type": "quantitative"},
         "detail": {"field": "curve"}
       }},
      {"data": {"name": "ellOrange"}, "mark": {"type": "line", "stroke": "#e9b64a", "strokeWidth": 5, "opacity": 0.85},
       "encoding": {"x": {"field": "v", "type": "quantitative", "axis": null}, "y": {"field": "T", "type": "quantitative"}, "order": {"field": "i", "type": "quantitative"}}}
    ]
  },
  {
    "title": {"text": "(c)", "dx": -3},
    "width": 445, "height": 346,
    "resolve": {"axis": {"x": "independent", "y": "independent"}},
    "layer": [
      {"data": {"name": "soc"}, "mark": {"type": "line", "color": "#0000ff", "strokeWidth": 3, "strokeJoin": "round"},
       "encoding": {
         "x": {"field": "t", "type": "quantitative", "scale": {"domain": [0, 1300], "nice": false, "zero": false},
               "axis": {"title": "Time (s)", "values": [0,200,400,600,800,1000,1200], "format": "d"}},
         "y": {"field": "soc", "type": "quantitative", "scale": {"domain": [0.4975, 0.61], "nice": false, "zero": false},
               "axis": {"orient": "left", "title": "SOC", "values": [0.5,0.52,0.54,0.56,0.58,0.6], "format": "~g", "titlePadding": 6}}
       }},
      {"data": {"name": "socEnd"}, "mark": {"type": "point", "shape": "circle", "filled": false, "size": 290, "stroke": "#e0561b", "strokeWidth": 2.5, "opacity": 1},
       "encoding": {
         "x": {"field": "t", "type": "quantitative", "axis": {"orient": "top", "title": "Battery SOC", "titleFontSize": 17, "titlePadding": 8, "labels": false, "grid": false, "values": [0,200,400,600,800,1000,1200]}},
         "y": {"datum": 0.5789, "type": "quantitative", "axis": {"orient": "right", "title": null, "labels": false, "grid": false, "domain": false, "values": [0.5,0.52,0.54,0.56,0.58,0.6]}}
       }},
      {"data": {"name": "socEnd"}, "mark": {"type": "rule", "stroke": "#e0561b", "strokeWidth": 2.5},
       "encoding": {"x": {"datum": 1326, "type": "quantitative", "axis": null}, "x2": {"datum": 1398}, "y": {"datum": 0.5789, "type": "quantitative", "axis": null}}},
      {"data": {"name": "socEnd"}, "mark": {"type": "point", "shape": "triangle-right", "filled": true, "size": 100, "color": "#e0561b", "opacity": 1},
       "encoding": {"x": {"datum": 1403, "type": "quantitative", "axis": null}, "y": {"datum": 0.5789, "type": "quantitative", "axis": null}}},
      {"data": {"name": "socEnd"}, "mark": {"type": "text", "align": "left", "baseline": "middle", "font": "Lato", "fontSize": 21, "fontWeight": "bold", "color": "#111111"},
       "encoding": {"x": {"datum": 1443, "type": "quantitative", "axis": null}, "y": {"datum": 0.5789, "type": "quantitative", "axis": null}, "text": {"field": "label"}}}
    ]
  }
],
"columns": 2,
"spacing": {"row": 104, "column": 127},
"bounds": "flush"
}
